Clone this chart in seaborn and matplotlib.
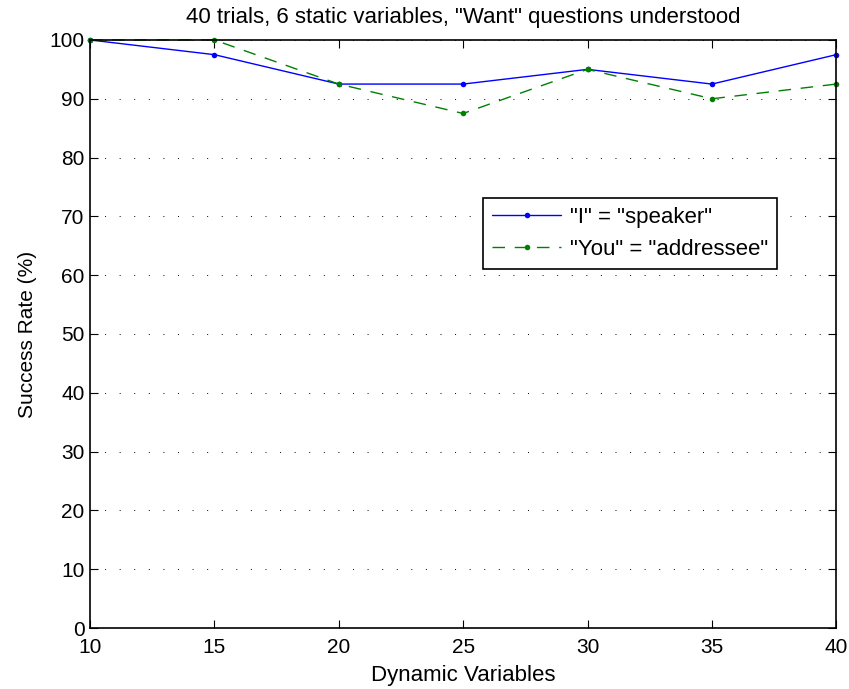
import seaborn as sns
import numpy as np
import pandas as pd
import matplotlib.pyplot as plt

dynamic_vars = [10, 15, 20, 25, 30, 35, 40]
speaker = [100, 97.5, 92.5, 92.5, 95, 92.5, 97.5]
addressee = [100, 100, 92.5, 87.5, 95, 90, 92.5]
labels = ['"I" = "speaker"', '"You" = "addressee"']

sns.set_style("ticks")
plt.rcParams["font.family"] = ["Liberation Sans", "DejaVu Sans"]
plt.rcParams.update({"text.color": "black", "axes.labelcolor": "black",
                     "xtick.color": "black", "ytick.color": "black"})

df = pd.DataFrame({
    "x": dynamic_vars * 2,
    "y": speaker + addressee,
    "series": [labels[0]] * len(speaker) + [labels[1]] * len(addressee),
})

fig = plt.figure(figsize=(8.49, 6.89), dpi=100)
ax = fig.add_axes([0.106, 0.0885, 0.879, 0.8535])

sns.lineplot(data=df, x="x", y="y", hue="series", style="series",
             palette=["#0000ff", "#008000"], dashes=[(None, None), (9, 7)],
             markers=["o", "o"], markersize=4, markeredgewidth=0,
             linewidth=1, ax=ax, clip_on=False)

ax.set_xlim(10, 40)
ax.set_ylim(0, 100)
ax.set_xticks(np.arange(10, 41, 5))
ax.set_yticks(np.arange(0, 101, 10))
ax.yaxis.grid(True, linestyle=(0, (1, 14)), color="black", linewidth=0.7)
ax.tick_params(direction="in", top=True, right=True, labelsize=15, length=6, width=0.8)
ax.tick_params(axis="x", pad=7)
ax.tick_params(axis="y", pad=4)
for s in ax.spines.values():
    s.set_visible(True)
    s.set_linewidth(1.2)
    s.set_color("black")

ax.set_xlabel("Dynamic Variables", fontsize=16, labelpad=6)
ax.set_ylabel("Success Rate (%)", fontsize=15, labelpad=9)
ax.set_title('40 trials, 6 static variables, "Want" questions understood', fontsize=16, pad=12)

leg = ax.legend(loc="upper left", bbox_to_anchor=(0.527, 0.731), fontsize=16,
                frameon=True, fancybox=False, edgecolor="black", framealpha=1,
                borderaxespad=0, handlelength=3.1, handletextpad=0.4,
                borderpad=0.4, labelspacing=0.5)
leg.get_frame().set_linewidth(1.2)

fig.savefig("out.png", dpi=100)
